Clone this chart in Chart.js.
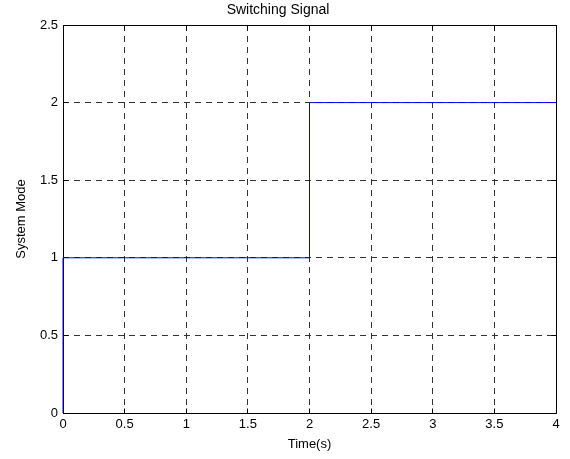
<!DOCTYPE html>
<html>
<head>
<meta charset="utf-8">
<script src="https://cdn.jsdelivr.net/npm/chart.js@4.4.0/dist/chart.umd.min.js"></script>
<style>
  body { margin: 0; padding: 0; background: white; }
  #chartContainer { width: 570px; height: 459px; }
</style>
</head>
<body>
<div id="chartContainer"><canvas id="chartCanvas"></canvas></div>
<script>
// switching signal: mode 1 until t = 2s, then mode 2
const timeValues = [0, 0, 2, 2, 4];
const modeValues = [0, 1, 1, 2, 2];
const xTicks = [0, 0.5, 1, 1.5, 2, 2.5, 3, 3.5, 4];
const yTicks = [0, 0.5, 1, 1.5, 2, 2.5];

const points = timeValues.map((t, i) => ({ x: t, y: modeValues[i] }));

const FONT = 'Arial, "Liberation Sans", sans-serif';
const GRID_COLOR = '#333333';

// MATLAB-like box around the axes, with tick marks pointing inward
const boxPlugin = {
  id: 'matlabBox',
  beforeDatasetsDraw(chart) {
    const { ctx, chartArea: a, scales } = chart;
    // same pixel snapping as Chart.js grid lines
    const al = p => Math.round(p - 0.5) + 0.5;
    const left = al(a.left), right = al(a.right), top = al(a.top), bottom = al(a.bottom);
    ctx.save();
    ctx.strokeStyle = '#000000';
    ctx.lineWidth = 1;
    ctx.setLineDash([]);
    ctx.beginPath();
    ctx.rect(left, top, right - left, bottom - top);
    xTicks.forEach(v => {
      const px = al(scales.x.getPixelForValue(v));
      ctx.moveTo(px, bottom); ctx.lineTo(px, bottom - 5);
      ctx.moveTo(px, top); ctx.lineTo(px, top + 5);
    });
    yTicks.forEach(v => {
      const py = al(scales.y.getPixelForValue(v));
      ctx.moveTo(left, py); ctx.lineTo(left + 5, py);
      ctx.moveTo(right, py); ctx.lineTo(right - 5, py);
    });
    ctx.stroke();
    ctx.restore();
  }
};

const ctx = document.getElementById('chartCanvas').getContext('2d');
new Chart(ctx, {
  type: 'line',
  data: {
    datasets: [{
      data: points,
      borderColor: '#0000ff',
      borderWidth: 1,
      pointRadius: 0,
      fill: false,
      tension: 0,
      clip: false
    }]
  },
  options: {
    responsive: true,
    maintainAspectRatio: false,
    animation: false,
    layout: { padding: { left: 0, right: 14, top: 0, bottom: 0 } },
    plugins: {
      legend: { display: false },
      tooltip: { enabled: false },
      title: {
        display: true,
        text: 'Switching Signal',
        color: '#000000',
        font: { family: FONT, size: 14, weight: 'normal' },
        padding: { top: 2, bottom: 6.2 }
      }
    },
    scales: {
      x: {
        type: 'linear',
        min: 0,
        max: 4,
        afterBuildTicks: s => { s.ticks = xTicks.map(v => ({ value: v })); },
        afterFit: s => { s.height = 46; },
        ticks: {
          color: '#000000',
          font: { family: FONT, size: 13 },
          padding: 4,
          maxRotation: 0,
          callback: v => String(v)
        },
        grid: { color: GRID_COLOR, lineWidth: 1, drawTicks: false },
        border: { display: false, dash: [6, 5] },
        title: {
          display: true,
          text: 'Time(s)',
          color: '#000000',
          font: { family: FONT, size: 13 },
          padding: { top: 0, bottom: 7 }
        }
      },
      y: {
        type: 'linear',
        min: 0,
        max: 2.5,
        afterBuildTicks: s => { s.ticks = yTicks.map(v => ({ value: v })); },
        afterFit: s => { s.width = 63; },
        ticks: {
          color: '#000000',
          font: { family: FONT, size: 13 },
          padding: 5,
          callback: v => String(v)
        },
        grid: { color: GRID_COLOR, lineWidth: 1, drawTicks: false },
        border: { display: false, dash: [6, 5] },
        title: {
          display: true,
          text: 'System Mode',
          color: '#000000',
          font: { family: FONT, size: 13 },
          padding: { top: 14, bottom: 0 }
        }
      }
    }
  },
  plugins: [boxPlugin]
});
</script>
</body>
</html>
